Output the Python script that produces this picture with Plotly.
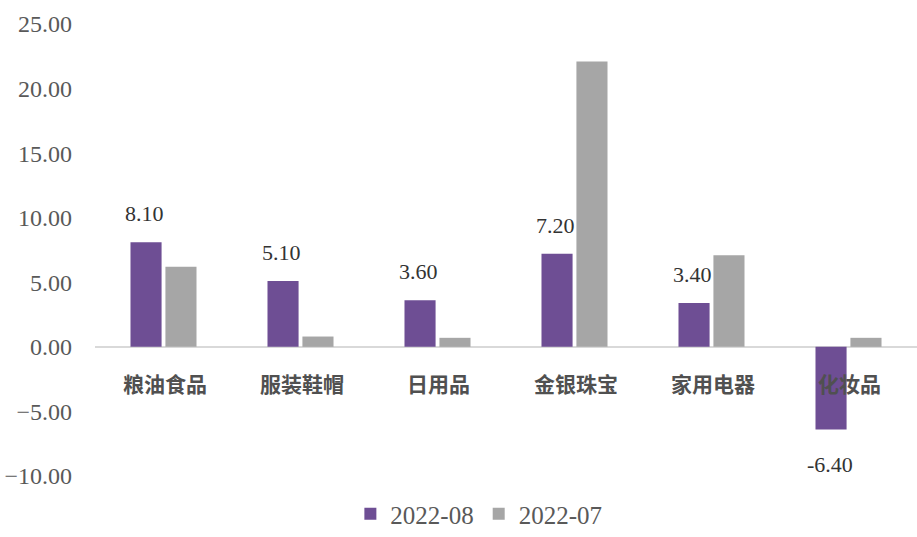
import plotly.graph_objects as go

categories = ["粮油食品", "服装鞋帽", "日用品", "金银珠宝", "家用电器", "化妆品"]
s_aug = [8.10, 5.10, 3.60, 7.20, 3.40, -6.40]
s_jul = [6.2, 0.8, 0.7, 22.1, 7.1, 0.7]
name_aug = "2022-08"
name_jul = "2022-07"
yticks = [-10, -5, 0, 5, 10, 15, 20, 25]

purple = "#6e4e94"
gray = "#a6a6a6"
serif = "Liberation Serif, Times New Roman, serif"

fig = go.Figure()
fig.add_trace(go.Bar(x=categories, y=s_aug, name=name_aug, marker=dict(color=purple, line=dict(width=0))))
fig.add_trace(go.Bar(x=categories, y=s_jul, name=name_jul, marker=dict(color=gray, line=dict(width=0))))

for c, v in zip(categories, s_aug):
    fig.add_annotation(x=c, y=v, xref="x", yref="y", text=f"{v:.2f}", showarrow=False,
                       xshift=-19, yshift=(14 if v >= 0 else -20),
                       yanchor="bottom" if v >= 0 else "top",
                       font=dict(family=serif, size=22, color="#333333"))

# category labels placed just under the zero line
for c in categories:
    fig.add_annotation(x=c, y=0, xref="x", yref="y", text=c, showarrow=False,
                       yanchor="top", yshift=-19, xshift=1,
                       font=dict(family="Noto Sans CJK SC", size=21, color="#505050", weight=600))

fig.update_layout(
    width=917, height=537,
    margin=dict(l=95, r=0, t=24, b=61, autoexpand=False),
    plot_bgcolor="white", paper_bgcolor="white",
    barmode="group", bargap=0.49, bargroupgap=0.11,
    showlegend=True,
    legend=dict(orientation="h", x=0.467, xanchor="center", yref="container", y=0.0,
                yanchor="bottom", tracegroupgap=0,
                font=dict(family=serif, size=25, color="#595959"),
                traceorder="normal"),
    xaxis=dict(showgrid=False, showline=False, ticks="", zeroline=False,
               showticklabels=False, automargin=False),
    yaxis=dict(range=[-10, 25], tickvals=yticks, tickformat=".2f", showgrid=False,
               zeroline=True, zerolinecolor="#d9d9d9", zerolinewidth=2, showline=False,
               automargin=False,
               tickfont=dict(family=serif, size=24, color="#595959"), ticklabelstandoff=22),
)
fig.write_html("out.html")
